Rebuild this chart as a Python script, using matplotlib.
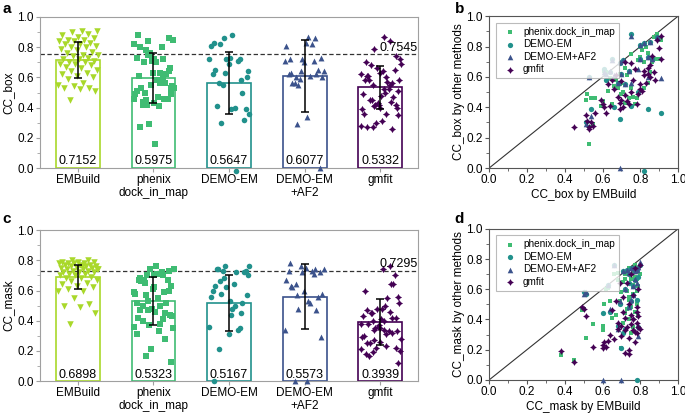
import numpy as np
import matplotlib
matplotlib.use("Agg")
import matplotlib.pyplot as plt
from matplotlib.path import Path
from matplotlib.ticker import MultipleLocator, FormatStrFormatter

plt.rcParams["font.family"] = ["Liberation Sans", "DejaVu Sans"]
plt.rcParams["font.size"] = 8.5

nan = np.nan

# categories and summary values shown on the bars
methods = ["EMBuild", "phenix\ndock_in_map", "DEMO-EM", "DEMO-EM\n+AF2", "gmfit"]
legend_names = ["phenix.dock_in_map", "DEMO-EM", "DEMO-EM+AF2", "gmfit"]
mean_box = [0.7152, 0.5975, 0.5647, 0.6077, 0.5332]
std_box = [0.116, 0.166, 0.205, 0.238, 0.143]
mean_mask = [0.6898, 0.5323, 0.5167, 0.5573, 0.3939]
std_mask = [0.080, 0.160, 0.183, 0.215, 0.152]
ref_box = 0.7545
ref_mask = 0.7295

# per-target CC_box (same target order in every list, nan = no model)
emb_box = [0.45, 0.51, 0.52, 0.53, 0.53, 0.54, 0.55, 0.56, 0.59, 0.60,
           0.61, 0.62, 0.63, 0.64, 0.65, 0.66, 0.67, 0.68, 0.69, 0.69,
           0.70, 0.70, 0.71, 0.72, 0.72, 0.73, 0.74, 0.75, 0.75, 0.76,
           0.77, 0.78, 0.79, 0.80, 0.80, 0.81, 0.82, 0.82, 0.83, 0.84,
           0.84, 0.85, 0.85, 0.86, 0.87, 0.88, 0.89, 0.90, 0.91, 0.91]
phx_box = [nan, 0.45, 0.49, 0.16, 0.27, 0.46, 0.29, 0.46, 0.41, 0.44,
           0.64, 0.63, 0.51, 0.59, 0.42, 0.54, 0.58, 0.53, 0.62, 0.55,
           0.49, 0.56, 0.50, 0.66, 0.43, 0.61, 0.46, 0.75, 0.53, 0.47,
           0.42, 0.46, 0.71, 0.73, 0.80, 0.78, 0.53, 0.70, 0.80, 0.56,
           0.76, 0.82, 0.63, 0.70, 0.86, 0.72, 0.88, 0.72, 0.84, 0.85]
demo_box = [nan, 0.30, nan, 0.60, nan, 0.39, nan, nan, nan, nan,
            0.65, 0.58, nan, 0.63, 0.72, 0.40, nan, 0.56, 0.32, 0.69,
            0.62, nan, 0.71, 0.55, nan, nan, 0.64, 0.88, 0.41, nan,
            nan, nan, 0.50, 0.72, 0.81, nan, -0.02, 0.82, nan, 0.39,
            0.73, 0.83, nan, 0.72, nan, nan, 0.86, nan, 0.36, nan]
af2_box = [nan, 0.29, nan, 0.60, nan, 0.34, nan, nan, nan, nan,
           0.63, 0.62, nan, 0.64, 0.71, 0.61, nan, 0.56, 0.00, 0.70,
           0.62, nan, 0.71, 0.55, nan, nan, 0.64, 0.87, 0.56, nan,
           nan, nan, 0.65, 0.72, 0.81, nan, nan, 0.82, nan, 0.60,
           0.73, 0.83, nan, 0.72, nan, nan, 0.86, nan, 0.59, nan]
gm_box = [0.27, 0.35, 0.31, 0.27, 0.26, 0.30, 0.28, 0.36, 0.45, 0.42,
          0.40, 0.36, 0.55, 0.41, 0.58, 0.52, 0.61, 0.47, 0.43, 0.39,
          0.57, 0.45, 0.40, 0.48, 0.70, 0.44, 0.42, 0.69, 0.50, 0.58,
          0.65, 0.42, 0.49, 0.52, 0.55, 0.51, 0.64, 0.61, 0.56, 0.66,
          0.62, 0.60, 0.68, 0.74, 0.63, 0.58, 0.84, 0.79, 0.72, 0.87]

# per-target CC_mask
emb_mask = [0.38, 0.45, 0.49, 0.50, 0.51, 0.55, 0.60, 0.60, 0.61, 0.62,
            0.63, 0.64, 0.65, 0.66, 0.67, 0.68, 0.68, 0.69, 0.70, 0.70,
            0.71, 0.71, 0.72, 0.72, 0.72, 0.73, 0.73, 0.74, 0.74, 0.74,
            0.75, 0.75, 0.75, 0.76, 0.76, 0.76, 0.77, 0.77, 0.77, 0.78,
            0.78, 0.78, 0.78, 0.79, 0.79, 0.79, 0.80, 0.80, 0.74, 0.76]
phx_mask = [0.165, 0.13, 0.46, 0.47, 0.28, 0.37, 0.36, 0.33, 0.50, 0.60,
            0.61, 0.52, 0.41, 0.70, 0.43, 0.71, 0.66, 0.52, 0.21, 0.58,
            0.38, 0.65, 0.44, 0.70, 0.67, 0.59, 0.47, 0.74, 0.55, 0.40,
            0.67, 0.48, 0.31, 0.72, 0.57, 0.63, 0.76, 0.68, 0.45, 0.74,
            0.59, 0.50, 0.67, 0.73, 0.62, 0.42, 0.70, nan, 0.53, 0.35]
demo_mask = [nan, nan, nan, 0.58, 0.57, nan, 0.44, nan, nan, nan,
             0.63, 0.45, nan, 0.76, nan, 0.36, nan, 0.50, 0.21, nan,
             0.72, 0.31, nan, 0.60, 0.34, 0.73, nan, 0.70, 0.48, nan,
             0.74, 0.52, nan, 0.62, 0.56, nan, 0.72, 0.66, nan, 0.73,
             0.53, nan, 0.00, 0.35, nan, 0.68, 0.76, nan, 0.64, 0.74]
af2_mask = [nan, nan, nan, 0.57, 0.58, nan, nan, 0.00, nan, nan,
            0.63, 0.47, nan, 0.76, nan, 0.34, nan, 0.52, nan, 0.00,
            0.72, nan, nan, 0.60, nan, 0.73, nan, 0.71, 0.48, nan,
            0.74, 0.53, nan, 0.62, 0.56, nan, 0.72, 0.67, nan, 0.73,
            0.64, nan, nan, 0.29, nan, 0.75, 0.78, nan, nan, 0.74]
gm_mask = [0.19, 0.12, 0.48, 0.47, 0.42, 0.22, 0.21, 0.23, 0.25, 0.22,
           0.26, 0.30, 0.46, 0.27, 0.52, 0.34, 0.38, 0.64, 0.36, 0.29,
           0.55, 0.45, 0.33, 0.41, 0.18, 0.64, 0.35, 0.28, 0.50, 0.17,
           0.70, 0.37, 0.43, 0.33, 0.40, 0.56, 0.74, 0.25, 0.32, 0.48,
           0.38, 0.31, 0.45, 0.42, 0.35, 0.60, 0.76, 0.34, 0.20, 0.40]

# fat four-pointed star for gmfit
star = Path([(0, 1), (0.38, 0.38), (1, 0), (0.38, -0.38), (0, -1),
             (-0.38, -0.38), (-1, 0), (-0.38, 0.38), (0, 1)],
            [Path.MOVETO] + [Path.LINETO] * 7 + [Path.CLOSEPOLY])

colors = ["#a9d82a", "#3fbc73", "#21918c", "#3b528b", "#440154"]
markers = ["v", "s", "o", "^", star]
msizes = [22, 14, 16, 18, 26]

FRAME = "#a0a0a0"


def jitter(n, width=0.27):
    # deterministic spread of points across the bar
    k = np.arange(n)
    return ((k * 0.6180339 + 0.31) % 1.0 - 0.5) * 2 * width


def bar_panel(ax, series, means, stds, ref, ylab):
    x = np.arange(len(methods))
    ax.bar(x, means, width=0.58, fill=False, edgecolor=colors, linewidth=1.2, zorder=2)
    for i, vals in enumerate(series):
        v = np.array(vals, dtype=float)
        v = v[~np.isnan(v)]
        ax.scatter(x[i] + jitter(len(v)), v, s=msizes[i], marker=markers[i],
                   color=colors[i], linewidths=0, zorder=3, clip_on=False)
        ax.text(x[i], 0.004, f"{means[i]:.4f}", ha="center", va="bottom", fontsize=9, zorder=5)
    ax.errorbar(x, means, yerr=stds, fmt="none", ecolor="black", elinewidth=1.1,
                capsize=3.2, capthick=1.1, zorder=4)
    ax.axhline(ref, color="#333333", ls=(0, (3.5, 2)), lw=0.9, zorder=1)
    ax.text(4.49, ref + 0.003, f"{ref:.4f}", ha="right", va="bottom", fontsize=9)
    ax.set_xlim(-0.5, 4.5)
    ax.set_ylim(0, 1.0)
    ax.set_xticks(x)
    ax.set_xticklabels(methods, linespacing=1.05)
    ax.yaxis.set_major_locator(MultipleLocator(0.2))
    ax.yaxis.set_minor_locator(MultipleLocator(0.1))
    ax.yaxis.set_major_formatter(FormatStrFormatter("%.1f"))
    ax.set_ylabel(ylab, labelpad=2)
    for sp in ax.spines.values():
        sp.set_color(FRAME)
    ax.tick_params(axis="both", colors=FRAME, labelcolor="black", length=3, pad=1.5)
    ax.tick_params(axis="y", which="minor", colors=FRAME, length=2)


def scatter_panel(ax, embx, series, metric):
    ex = np.array(embx, dtype=float)
    ax.plot([0, 1], [0, 1], color="#333333", lw=0.8, zorder=1)
    for j, vals in enumerate(series):
        v = np.array(vals, dtype=float)
        ok = ~np.isnan(v)
        ax.scatter(ex[ok], v[ok], s=msizes[j + 1] * 0.9, marker=markers[j + 1],
                   color=colors[j + 1], linewidths=0, zorder=3, clip_on=False,
                   label=legend_names[j])
    ax.set_xlim(0, 1)
    ax.set_ylim(0, 1)
    for axis in (ax.xaxis, ax.yaxis):
        axis.set_major_locator(MultipleLocator(0.2))
        axis.set_minor_locator(MultipleLocator(0.1))
        axis.set_major_formatter(FormatStrFormatter("%.1f"))
    ax.set_xlabel(f"{metric} by EMBuild", labelpad=2)
    ax.set_ylabel(f"{metric} by other methods", labelpad=1)
    for sp in ax.spines.values():
        sp.set_color("#555555")
    ax.tick_params(axis="both", which="major", colors="#555555", labelcolor="black", length=3, pad=1.5)
    ax.tick_params(axis="both", which="minor", colors="#555555", length=2)
    leg = ax.legend(loc="upper left", fontsize=7.2, scatterpoints=1, handletextpad=0.3,
                    borderpad=0.4, labelspacing=0.25, fancybox=False,
                    bbox_to_anchor=(0.01, 0.99), markerscale=1.0)
    leg.get_frame().set_edgecolor("#aaaaaa")
    leg.get_frame().set_linewidth(0.8)


fig = plt.figure(figsize=(6.85, 4.13), dpi=100)
ax_a = fig.add_axes([0.0584, 0.593, 0.552, 0.366])
ax_c = fig.add_axes([0.0584, 0.077, 0.552, 0.366])
ax_b = fig.add_axes([0.714, 0.593, 0.276, 0.368])
ax_d = fig.add_axes([0.714, 0.080, 0.276, 0.366])

bar_panel(ax_a, [emb_box, phx_box, demo_box, af2_box, gm_box], mean_box, std_box, ref_box, "CC_box")
bar_panel(ax_c, [emb_mask, phx_mask, demo_mask, af2_mask, gm_mask], mean_mask, std_mask, ref_mask, "CC_mask")
scatter_panel(ax_b, emb_box, [phx_box, demo_box, af2_box, gm_box], "CC_box")
scatter_panel(ax_d, emb_mask, [phx_mask, demo_mask, af2_mask, gm_mask], "CC_mask")

for lab, (fx, fy) in zip("abcd", [(0.003, 0.995), (0.664, 0.995), (0.003, 0.487), (0.664, 0.487)]):
    fig.text(fx, fy, lab, fontsize=11, fontweight="bold", ha="left", va="top")

fig.savefig("out.png", dpi=100)
